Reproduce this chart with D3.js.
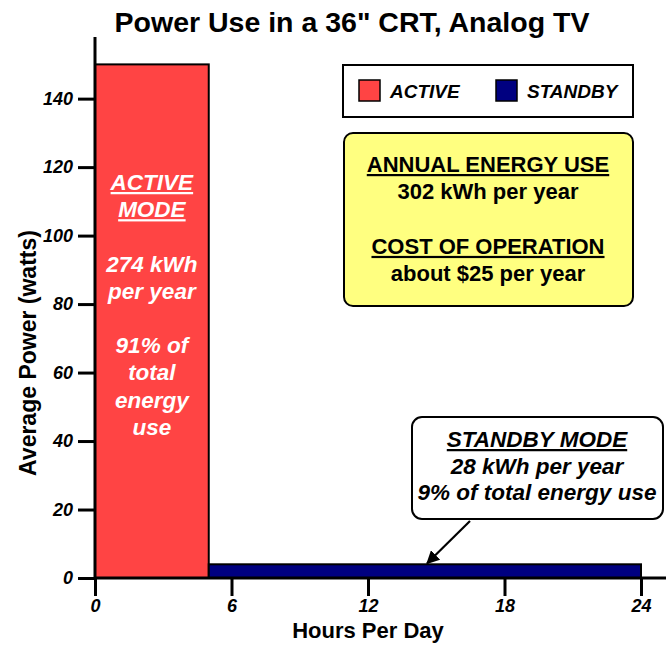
<!DOCTYPE html>
<html>
<head>
<meta charset="utf-8">
<script src="https://cdn.jsdelivr.net/npm/d3@7"></script>
<style>
  body { margin: 0; background: #fff; }
  svg { font-family: "Liberation Sans", Arial, sans-serif; }
</style>
</head>
<body>
<div id="chart"></div>
<script>
const modes = ['ACTIVE', 'STANDBY'];
const hourStart = [0, 5];
const hourEnd = [5, 24];
const watts = [150, 4];
const modeColors = ['#ff4444', '#000080'];
const xTicks = [0, 6, 12, 18, 24];
const yTicks = [0, 20, 40, 60, 80, 100, 120, 140];

const activeLines = ['ACTIVE', 'MODE', '', '274 kWh', 'per year', '', '91% of', 'total', 'energy', 'use'];
const summaryLines = ['ANNUAL ENERGY USE', '302 kWh per year', '', 'COST OF OPERATION', 'about $25 per year'];
const standbyLines = ['STANDBY MODE', '28 kWh per year', '9% of total energy use'];

const width = 666, height = 645;

const svg = d3.select('#chart').append('svg')
    .attr('width', width)
    .attr('height', height);

const x = d3.scaleLinear().domain([0, 24]).range([95, 641]);
const y = d3.scaleLinear().domain([0, 158]).range([578, 37]);

// title
svg.append('text')
    .attr('x', 352).attr('y', 32)
    .attr('text-anchor', 'middle')
    .style('font-weight', 'bold')
    .style('font-size', '28.5px')
    .text('Power Use in a 36" CRT, Analog TV');

// bars
const bars = modes.map((m, i) => ({ mode: m, x0: hourStart[i], x1: hourEnd[i], w: watts[i], color: modeColors[i] }));

svg.selectAll('.bar')
    .data(bars)
    .join('rect')
    .attr('class', 'bar')
    .attr('x', d => x(d.x0))
    .attr('y', d => y(d.w))
    .attr('width', d => x(d.x1) - x(d.x0))
    .attr('height', d => y(0) - y(d.w))
    .attr('fill', d => d.color)
    .attr('stroke', '#000')
    .attr('stroke-width', 2);

// axes
const yAxis = svg.append('g')
    .attr('transform', `translate(${x(0)},0)`)
    .call(d3.axisLeft(y).tickValues(yTicks).tickSize(17).tickPadding(5));
yAxis.select('.domain').remove();
yAxis.append('line')
    .attr('x1', 0).attr('x2', 0)
    .attr('y1', y(158)).attr('y2', y(0))
    .attr('stroke', '#000').attr('stroke-width', 3);

const xAxis = svg.append('g')
    .attr('transform', `translate(0,${y(0)})`)
    .call(d3.axisBottom(x).tickValues(xTicks).tickSize(18).tickPadding(3));
xAxis.select('.domain').remove();
xAxis.append('line')
    .attr('x1', x(0)).attr('x2', width)
    .attr('y1', 0).attr('y2', 0)
    .attr('stroke', '#000').attr('stroke-width', 3);

svg.selectAll('.tick line').attr('stroke', '#000').attr('stroke-width', 3);
svg.selectAll('.tick text')
    .attr('fill', '#000')
    .style('font-family', '"Liberation Sans", Arial, sans-serif')
    .style('font-size', '18px')
    .style('font-weight', 'bold')
    .style('font-style', 'italic');

svg.append('text')
    .attr('x', 368).attr('y', 638)
    .attr('text-anchor', 'middle')
    .style('font-weight', 'bold')
    .style('font-size', '22px')
    .text('Hours Per Day');

svg.append('text')
    .attr('transform', 'translate(36,353) rotate(-90)')
    .attr('text-anchor', 'middle')
    .style('font-weight', 'bold')
    .style('font-size', '23px')
    .text('Average Power (watts)');

// active mode label inside bar
svg.append('g')
    .selectAll('text')
    .data(activeLines)
    .join('text')
    .attr('x', (x(hourStart[0]) + x(hourEnd[0])) / 2)
    .attr('y', (d, i) => 190 + i * 27.2)
    .attr('text-anchor', 'middle')
    .attr('fill', '#fff')
    .style('font-weight', 'bold')
    .style('font-style', 'italic')
    .style('font-size', '22.5px')
    .style('text-decoration', (d, i) => i < 2 ? 'underline' : 'none')
    .text(d => d);

// legend
const legend = svg.append('g');
legend.append('rect')
    .attr('x', 343).attr('y', 65)
    .attr('width', 290).attr('height', 52)
    .attr('fill', '#fff')
    .attr('stroke', '#000').attr('stroke-width', 2);

const legendX = [359, 496];
const items = legend.selectAll('.item')
    .data(bars)
    .join('g')
    .attr('class', 'item')
    .attr('transform', (d, i) => `translate(${legendX[i]},80)`);
items.append('rect')
    .attr('width', 21).attr('height', 21)
    .attr('fill', d => d.color)
    .attr('stroke', '#000').attr('stroke-width', 1.5);
items.append('text')
    .attr('x', 31).attr('y', 18)
    .style('font-weight', 'bold')
    .style('font-style', 'italic')
    .style('font-size', '19px')
    .text(d => d.mode);

// summary box
svg.append('rect')
    .attr('x', 344).attr('y', 133)
    .attr('width', 289).attr('height', 173)
    .attr('rx', 9)
    .attr('fill', '#ffff80')
    .attr('stroke', '#000').attr('stroke-width', 2);

svg.append('g')
    .selectAll('text')
    .data(summaryLines)
    .join('text')
    .attr('x', 488)
    .attr('y', (d, i) => 172 + i * 27.3)
    .attr('text-anchor', 'middle')
    .style('font-weight', 'bold')
    .style('font-size', '22px')
    .style('text-decoration', (d, i) => (i === 0 || i === 3) ? 'underline' : 'none')
    .text(d => d);

// standby callout
svg.append('defs').append('marker')
    .attr('id', 'arrow')
    .attr('viewBox', '0 0 10 10')
    .attr('refX', 9).attr('refY', 5)
    .attr('markerWidth', 6).attr('markerHeight', 6)
    .attr('orient', 'auto')
    .append('path')
    .attr('d', 'M0,0 L10,5 L0,10 Z')
    .attr('fill', '#000');

svg.append('line')
    .attr('x1', 470).attr('y1', 521)
    .attr('x2', x(14.6)).attr('y2', y(watts[1]) - 1)
    .attr('stroke', '#000').attr('stroke-width', 2.2)
    .attr('marker-end', 'url(#arrow)');

svg.append('rect')
    .attr('x', 412).attr('y', 417)
    .attr('width', 251).attr('height', 102)
    .attr('rx', 10)
    .attr('fill', '#fff')
    .attr('stroke', '#000').attr('stroke-width', 2);

svg.append('g')
    .selectAll('text')
    .data(standbyLines)
    .join('text')
    .attr('x', 537)
    .attr('y', (d, i) => 447 + i * 26.5)
    .attr('text-anchor', 'middle')
    .style('font-weight', 'bold')
    .style('font-style', 'italic')
    .style('font-size', '22.5px')
    .style('text-decoration', (d, i) => i === 0 ? 'underline' : 'none')
    .text(d => d);
</script>
</body>
</html>
